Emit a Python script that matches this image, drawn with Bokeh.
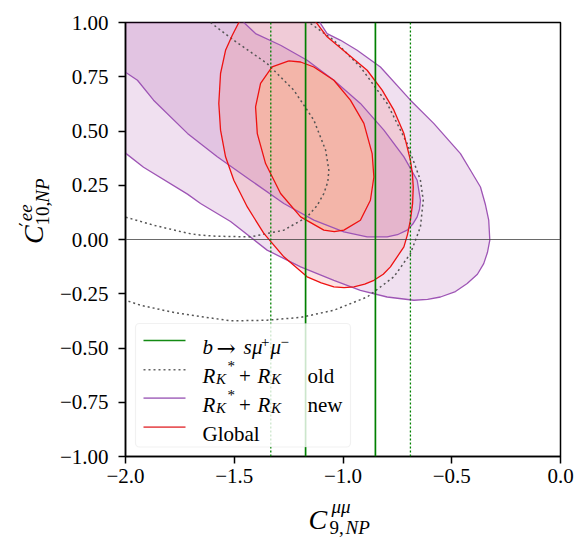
from bokeh.plotting import figure
from bokeh.layouts import column, row
from bokeh.models import (Range1d, Span, BoxAnnotation, Label, FixedTicker,
                          CustomJSTickFormatter)
from bokeh.embed import file_html
from bokeh.resources import INLINE
import math

# ---------------------------------------------------------------- data
# b -> s mu+ mu- fit on C9^mumu: 1 sigma and 2 sigma bounds
BSMM_1SIG = [-1.172, -0.851]
BSMM_2SIG = [-1.332, -0.690]

# R_K* + R_K (new) confidence contours
NEW_1SIG_X = [-1.456, -1.402, -1.287, -1.165, -1.042, -0.920, -0.812, -0.720, -0.659,
              -0.644, -0.648, -0.659, -0.680, -0.705, -0.750, -0.797, -0.889, -0.996,
              -1.134, -1.272, -1.425, -1.578, -1.715, -1.871, -1.945, -2.000, -2.08,
              -2.08, -1.44]
NEW_1SIG_Y = [1.000, 0.949, 0.895, 0.826, 0.734, 0.627, 0.504, 0.381, 0.273,
              0.181, 0.140, 0.104, 0.070, 0.043, 0.022, 0.012, 0.012, 0.035,
              0.089, 0.166, 0.273, 0.381, 0.489, 0.642, 0.734, 0.771, 0.83,
              1.08, 1.08]

NEW_2SIG_X = [-1.103, -1.073, -1.011, -0.935, -0.828, -0.690, -0.583, -0.460, -0.414,
              -0.368, -0.345, -0.330, -0.325, -0.336, -0.353, -0.382, -0.429, -0.483,
              -0.552, -0.611, -0.674, -0.797, -0.920, -1.042, -1.195, -1.349, -1.517,
              -1.655, -1.715, -1.917, -2.000, -2.08, -2.08, -1.13]
NEW_2SIG_Y = [0.995, 0.949, 0.918, 0.872, 0.795, 0.642, 0.535, 0.396, 0.319,
              0.242, 0.160, 0.089, -0.003, -0.060, -0.111, -0.160, -0.203, -0.240,
              -0.265, -0.276, -0.280, -0.265, -0.234, -0.188, -0.126, -0.049, 0.083,
              0.166, 0.209, 0.333, 0.398, 0.44, 1.08, 1.08]

# R_K* + R_K (old) confidence contours
OLD_1SIG_X = [-1.609, -1.502, -1.349, -1.226, -1.134, -1.080, -1.065, -1.070, -1.088,
              -1.120, -1.165, -1.272, -1.425, -1.578, -1.655, -1.715, -1.871, -2.000]
OLD_1SIG_Y = [1.000, 0.918, 0.811, 0.688, 0.550, 0.412, 0.319, 0.265, 0.212,
              0.155, 0.104, 0.043, 0.012, 0.015, 0.020, 0.029, 0.066, 0.103]

OLD_2SIG_X = [-1.149, -1.042, -0.920, -0.797, -0.705, -0.644, -0.631, -0.644, -0.690,
              -0.766, -0.889, -1.042, -1.195, -1.349, -1.517, -1.770, -1.931, -2.000]
OLD_2SIG_Y = [0.995, 0.918, 0.795, 0.627, 0.442, 0.273, 0.181, 0.058, -0.065,
              -0.172, -0.265, -0.326, -0.359, -0.372, -0.375, -0.338, -0.303, -0.280]

# Global fit confidence contours
GLOBAL_1SIG_X = [-1.249, -1.195, -1.134, -1.042, -0.966, -0.904, -0.866, -0.858, -0.874,
                 -0.920, -0.996, -1.040, -1.088, -1.195, -1.287, -1.356, -1.394, -1.402,
                 -1.379, -1.326]
GLOBAL_1SIG_Y = [0.823, 0.818, 0.795, 0.734, 0.642, 0.535, 0.396, 0.288, 0.181,
                 0.089, 0.043, 0.036, 0.043, 0.104, 0.212, 0.350, 0.488, 0.611,
                 0.719, 0.795]

GLOBAL_2SIG_X = [-1.479, -1.509, -1.540, -1.563, -1.571, -1.563, -1.540, -1.502, -1.440,
                 -1.364, -1.272, -1.165, -1.100, -1.042, -0.995, -0.950, -0.900, -0.858,
                 -0.815, -0.782, -0.720, -0.703, -0.690, -0.680, -0.677, -0.681, -0.690,
                 -0.720, -0.766, -0.820, -0.889, -0.981, -1.073, -1.119, -1.16, -1.30,
                 -1.44]
GLOBAL_2SIG_Y = [1.000, 0.941, 0.872, 0.765, 0.627, 0.504, 0.381, 0.273, 0.150,
                 0.028, -0.080, -0.172, -0.200, -0.218, -0.222, -0.218, -0.206, -0.188,
                 -0.160, -0.126, -0.034, 0.025, 0.089, 0.165, 0.242, 0.305, 0.365,
                 0.488, 0.596, 0.688, 0.780, 0.857, 0.934, 0.995, 1.04, 1.07,
                 1.04]

X_TICKS = [-2.0, -1.5, -1.0, -0.5, 0.0]
Y_TICKS = [-1.0, -0.75, -0.5, -0.25, 0.0, 0.25, 0.5, 0.75, 1.0]

# ---------------------------------------------------------------- page geometry
W, H = 588, 549            # whole page
YLAB_W = 55                # strip holding the vertical axis title
XLAB_H = 53                # strip holding the horizontal axis title
FRAME_X0, FRAME_Y0 = 125, 22   # plot frame top-left on the page
FW, FH = 435, 434              # plot frame size
XMIN, XMAX, YMIN, YMAX = -2.0, 0.0, -1.0, 1.0
SERIF = "Liberation Serif"

MAIN_W, MAIN_H = W - YLAB_W, H - XLAB_H

p = figure(width=MAIN_W, height=MAIN_H,
           x_range=Range1d(XMIN, XMAX), y_range=Range1d(YMIN, YMAX),
           output_backend="svg", toolbar_location=None,
           min_border_left=FRAME_X0 - YLAB_W, min_border_right=MAIN_W - (FRAME_X0 - YLAB_W) - FW,
           min_border_top=FRAME_Y0, min_border_bottom=MAIN_H - FRAME_Y0 - FH)
p.xgrid.visible = False
p.ygrid.visible = False
p.background_fill_color = "white"
p.border_fill_color = "white"
p.outline_line_color = "black"
p.outline_line_width = 1.5


def dx(sx):
    """page pixel x -> data x"""
    return XMIN + (sx - FRAME_X0) / FW * (XMAX - XMIN)


def dy(sy):
    """page pixel y -> data y"""
    return YMAX - (sy - FRAME_Y0) / FH * (YMAX - YMIN)


# axes
for ax, ticks, dec in ((p.xaxis, X_TICKS, 1), (p.yaxis, Y_TICKS, 2)):
    ax.ticker = FixedTicker(ticks=ticks)
    ax.formatter = CustomJSTickFormatter(
        code="return (tick < -1e-9 ? '\u2212' : '') + Math.abs(tick).toFixed(%d);" % dec)
    ax.major_label_text_font = SERIF
    ax.major_label_text_font_size = "21px"
    ax.major_label_text_color = "black"
    ax.major_tick_out = 7
    ax.major_tick_in = 0
    ax.minor_tick_out = 0
    ax.minor_tick_in = 0
    ax.major_tick_line_width = 1.5
    ax.axis_line_width = 1.5
    ax.axis_label = None
p.xaxis.major_label_standoff = 5
p.yaxis.major_label_standoff = 10

PURPLE = "#800080"
PURPLE_LINE = "#9e55b5"
RED_LINE = "#ee1111"

# filled regions
p.patch(NEW_2SIG_X, NEW_2SIG_Y, fill_color=PURPLE, fill_alpha=0.12, line_color=None)
p.patch(NEW_1SIG_X, NEW_1SIG_Y, fill_color=PURPLE, fill_alpha=0.12, line_color=None)
p.patch(GLOBAL_2SIG_X, GLOBAL_2SIG_Y, fill_color="#f08080", fill_alpha=0.22, line_color=None)
p.patch(GLOBAL_1SIG_X, GLOBAL_1SIG_Y, fill_color="#ffb48c", fill_alpha=0.55, line_color=None)


def closed(a):
    return list(a) + [a[0]]


# contour lines
p.line(closed(NEW_2SIG_X), closed(NEW_2SIG_Y), line_color=PURPLE_LINE, line_width=1.3)
p.line(closed(NEW_1SIG_X), closed(NEW_1SIG_Y), line_color=PURPLE_LINE, line_width=1.3)
p.line(OLD_2SIG_X, OLD_2SIG_Y, line_color="#555555", line_width=1.5, line_dash="2 3")
p.line(OLD_1SIG_X, OLD_1SIG_Y, line_color="#555555", line_width=1.5, line_dash="2 3")
p.line(closed(GLOBAL_2SIG_X), closed(GLOBAL_2SIG_Y), line_color=RED_LINE, line_width=1.3)
p.line(closed(GLOBAL_1SIG_X), closed(GLOBAL_1SIG_Y), line_color=RED_LINE, line_width=1.3)

# zero line and b -> s mu mu bands
p.add_layout(Span(location=0.0, dimension="width", line_color="#444444", line_width=0.8))
for v in BSMM_1SIG:
    p.add_layout(Span(location=v, dimension="height", line_color="#008000", line_width=1.7))
for v in BSMM_2SIG:
    p.add_layout(Span(location=v, dimension="height", line_color="#008000",
                      line_width=1.3, line_dash="2 2"))


def put(fig, t, x, y, size, italic=False, angle=0.0, font=SERIF):
    fig.add_layout(Label(x=x, y=y, text=t, text_font=font,
                         text_font_style="italic" if italic else "normal",
                         text_font_size="%gpx" % size, text_color="black",
                         text_align="left", text_baseline="alphabetic", angle=angle))


def text(t, sx, sy, size, italic=False, font=SERIF):
    put(p, t, dx(sx), dy(sy), size, italic, 0.0, font)


# legend frame
p.add_layout(BoxAnnotation(left=dx(135), right=dx(350), top=dy(323), bottom=dy(446.5),
                           fill_color="white", fill_alpha=0.8, line_color="#d0d0d0",
                           line_width=1.2, border_radius=4))

HX0, HX1, TX = 143, 185, 202
rows = [340, 369.3, 397.7, 426.7]
handles = [
    dict(line_color="#138a13", line_width=1.7),
    dict(line_color="#666666", line_width=1.5, line_dash="2 3"),
    dict(line_color="#b07cc6", line_width=1.7),
    dict(line_color="#e8595c", line_width=1.7),
]
for ry, style in zip(rows, handles):
    p.line([dx(HX0), dx(HX1)], [dy(ry), dy(ry)], level="overlay", **style)

FS, SS = 21, 15
b1 = rows[0] + 6.5
text("b", TX, b1, FS, True)
text("\u2192", 216, b1 + 0.5, 23, font="DejaVu Serif")
text("s", 243, b1, FS, True)
text("\u03bc", 251.5, b1, FS, True)
text("+", 260.5, b1 - 5, SS)
text("\u03bc", 270, b1, FS, True)
text("\u2212", 280, b1 - 5, SS)

for ry, word in ((rows[1], "old"), (rows[2], "new")):
    b = ry + 6.5
    text("R", TX, b, FS, True)
    text("K", 215.5, b + 3, SS, True)
    text("*", 227, b - 10, SS)
    text("+", 238.5, b, FS)
    text("R", 257, b, FS, True)
    text("K", 270.5, b + 3, SS, True)
    text(word, 307, b, FS)

text("Global", TX, rows[3] + 6.5, FS)


def strip(w, h):
    """blank figure whose data units are its own pixels (y pointing down)"""
    f = figure(width=w, height=h, x_range=Range1d(0, w), y_range=Range1d(h, 0),
               output_backend="svg", toolbar_location=None,
               x_axis_location=None, y_axis_location=None,
               min_border_left=0, min_border_right=0, min_border_top=0, min_border_bottom=0)
    f.xgrid.visible = False
    f.ygrid.visible = False
    f.outline_line_color = None
    f.background_fill_color = "white"
    f.border_fill_color = "white"
    return f


# vertical axis title: C'^{ee}_{10,NP}
ylab = strip(YLAB_W, MAIN_H)
A = math.pi / 2
put(ylab, "C", 33, 253, 28, True, A)
put(ylab, "\u2032", 25, 233, 19, False, A, font="DejaVu Serif")
put(ylab, "ee", 25, 227, 19, True, A)
put(ylab, "10,", 42, 232, 19, False, A)
put(ylab, "NP", 42, 206, 19, True, A)

# horizontal axis title: C^{mu mu}_{9,NP}
xlab = strip(W, XLAB_H)
y0 = MAIN_H
put(xlab, "C", 308, 518.5 - y0, 28, True)
put(xlab, "\u03bc\u03bc", 331, 505.5 - y0, 19, True)
put(xlab, "9,", 329, 527 - y0, 19)
put(xlab, "NP", 345, 527 - y0, 19, True)

page = column(row(ylab, p), xlab)
open("out.html", "w", encoding="utf-8").write(file_html(page, INLINE))
